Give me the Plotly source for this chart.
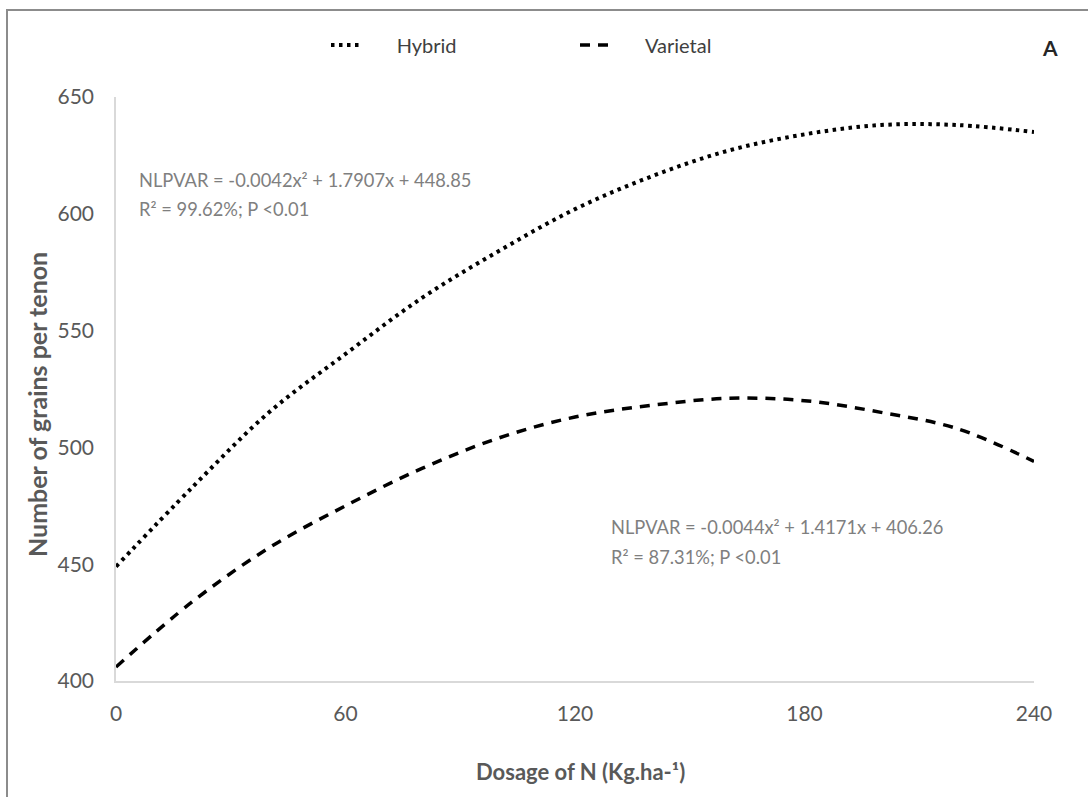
import plotly.graph_objects as go

# Nitrogen dosage (kg/ha) and grains per tenon for each maize type
dosage = [0, 20, 40, 60, 80, 100, 120, 140, 160, 180, 200, 220, 240]
hybrid = [449, 483, 515, 540, 564, 584, 602, 616, 627, 634, 638, 638, 635]
varietal = [406, 434, 457, 475, 491, 504, 513, 518, 521, 520, 515, 508, 494]

x_ticks = [0, 60, 120, 180, 240]
y_ticks = [400, 450, 500, 550, 600, 650]

eq_hybrid = ["NLPVAR = -0.0042x² + 1.7907x + 448.85", "R² = 99.62%; P <0.01"]
eq_varietal = ["NLPVAR = -0.0044x² + 1.4171x + 406.26", "R² = 87.31%; P <0.01"]

FONT = "Lato, Open Sans, sans-serif"
W, H = 1088, 797
L, R, T, B = 116, 54, 97, 116
pw, ph = W - L - R, H - T - B


def px_x(p):
    return (p - L) / pw


def px_y(p):
    return (H - B - p) / ph


PAD = "\u00a0" * 6

fig = go.Figure()
fig.add_trace(go.Scatter(
    x=dosage, y=hybrid, mode="lines", name=PAD + "Hybrid", line_shape="spline",
    line=dict(color="black", width=4, dash="3.5px,4.5px"),
))
fig.add_trace(go.Scatter(
    x=dosage, y=varietal, mode="lines", name=PAD + "Varietal", line_shape="spline",
    line=dict(color="black", width=3.5, dash="10px,8px"),
))

annotations = [
    dict(x=5.5, y=614.5, text=eq_hybrid[0], xanchor="left", yanchor="middle"),
    dict(x=5.5, y=602, text=eq_hybrid[1], xanchor="left", yanchor="middle"),
    dict(x=129, y=466, text=eq_varietal[0], xanchor="left", yanchor="middle"),
    dict(x=129, y=453, text=eq_varietal[1], xanchor="left", yanchor="middle"),
]
for a in annotations:
    a.update(xref="x", yref="y", showarrow=False,
             font=dict(family=FONT, size=18.3, color="#7f7f7f"))

annotations += [
    dict(xref="paper", yref="paper", x=px_x(37), y=px_y(405), textangle=-90,
         text="<b>Number of grains per tenon</b>", showarrow=False,
         xanchor="center", yanchor="middle",
         font=dict(family=FONT, size=25, color="#595959")),
    dict(xref="paper", yref="paper", x=px_x(580), y=px_y(771),
         text="<b>Dosage of N (Kg.ha-¹)</b>", showarrow=False,
         xanchor="center", yanchor="middle",
         font=dict(family=FONT, size=22, color="#595959")),
    dict(xref="paper", yref="paper", x=px_x(1050), y=px_y(48),
         text="<b>A</b>", showarrow=False, xanchor="center", yanchor="middle",
         font=dict(family=FONT, size=21, color="#262626")),
]

fig.update_layout(
    width=W, height=H,
    margin=dict(l=L, r=R, t=T, b=B),
    paper_bgcolor="white", plot_bgcolor="white",
    font=dict(family=FONT, color="#595959"),
    showlegend=True,
    legend=dict(
        orientation="h", x=px_x(326), y=px_y(45), xanchor="left", yanchor="middle",
        font=dict(family=FONT, size=20, color="#404040"),
        entrywidth=204, bgcolor="rgba(0,0,0,0)",
    ),
    xaxis=dict(
        range=[0, 240], tickvals=x_ticks, ticktext=[str(v) for v in x_ticks],
        showgrid=False, zeroline=False, showline=True, linecolor="#d9d9d9",
        linewidth=1.5, ticks="outside", ticklen=13, tickcolor="white",
        tickfont=dict(family=FONT, size=21, color="#595959"),
    ),
    yaxis=dict(
        range=[400, 650], tickvals=y_ticks, ticktext=[str(v) for v in y_ticks],
        showgrid=False, zeroline=False, showline=True, linecolor="#d9d9d9",
        linewidth=1.5, ticks="outside", ticklen=16, tickcolor="white",
        tickfont=dict(family=FONT, size=21, color="#595959"),
    ),
    annotations=annotations,
    shapes=[dict(
        type="rect", xref="paper", yref="paper",
        x0=px_x(7), x1=px_x(1300), y0=px_y(1000), y1=px_y(10),
        line=dict(color="#8c8c8c", width=2), fillcolor="rgba(0,0,0,0)",
        layer="below",
    )],
)

fig.write_html("out.html")
